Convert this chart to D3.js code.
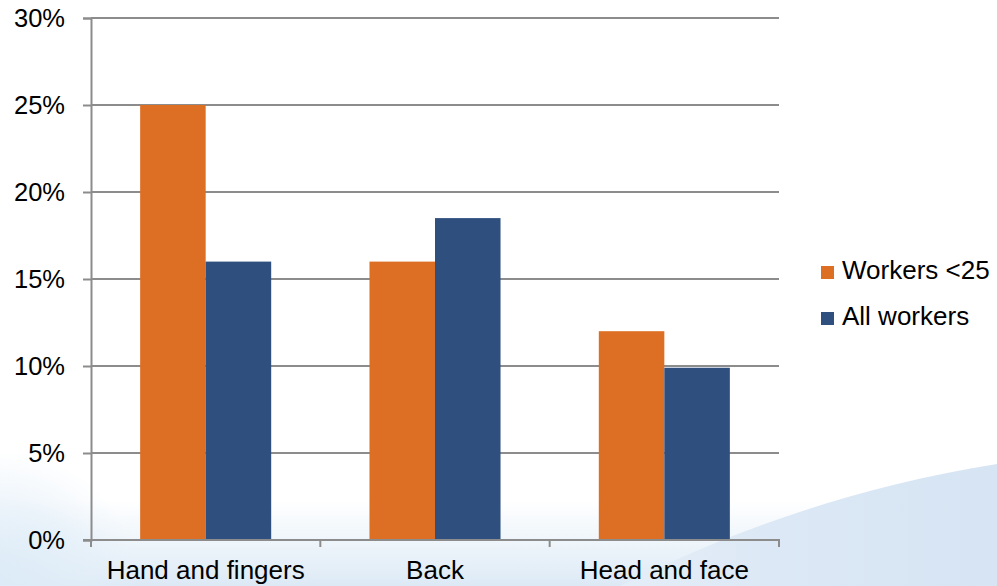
<!DOCTYPE html>
<html>
<head>
<meta charset="utf-8">
<script src="https://cdn.jsdelivr.net/npm/d3@7"></script>
<style>
  html, body { margin: 0; padding: 0; background: #ffffff; }
  svg { display: block; font-family: "Liberation Sans", Arial, sans-serif; }
</style>
</head>
<body>
<svg id="chart" width="997" height="586"></svg>
<script>
// Share of injuries by body part
const categories = ["Hand and fingers", "Back", "Head and face"];
const seriesNames = ["Workers <25", "All workers"];
const workersUnder25 = [25, 16, 12];
const allWorkers = [16, 18.5, 9.9];
const yTicks = [0, 5, 10, 15, 20, 25, 30];
const colors = ["#dd6f24", "#2f4f7f"];

const svg = d3.select("#chart");
const W = 997, H = 586;
const m = { left: 91, right: 779, top: 18, bottom: 540 };
const FONT = "'Liberation Sans', Arial, sans-serif";

// Soft blue haze and swoosh along the bottom of the slide
const defs = svg.append("defs");
const haze = defs.append("linearGradient").attr("id", "haze").attr("x1", 0).attr("y1", 0).attr("x2", 0).attr("y2", 1);
haze.append("stop").attr("offset", 0).attr("stop-color", "#e4eff8").attr("stop-opacity", 0);
haze.append("stop").attr("offset", 0.55).attr("stop-color", "#e4eff8").attr("stop-opacity", 0.7);
haze.append("stop").attr("offset", 1).attr("stop-color", "#dce9f5").attr("stop-opacity", 1);
const leftGlow = defs.append("radialGradient").attr("id", "leftGlow")
  .attr("cx", 0).attr("cy", 1).attr("r", 1);
leftGlow.append("stop").attr("offset", 0).attr("stop-color", "#dcebf7").attr("stop-opacity", 1);
leftGlow.append("stop").attr("offset", 0.6).attr("stop-color", "#e2eef8").attr("stop-opacity", 0.6);
leftGlow.append("stop").attr("offset", 1).attr("stop-color", "#e6f0f9").attr("stop-opacity", 0);
const sw = defs.append("linearGradient").attr("id", "sw").attr("x1", 0).attr("y1", 0).attr("x2", 1).attr("y2", 0);
sw.append("stop").attr("offset", 0).attr("stop-color", "#e4eef8");
sw.append("stop").attr("offset", 0.4).attr("stop-color", "#dce8f5");
sw.append("stop").attr("offset", 1).attr("stop-color", "#d6e4f3");

svg.append("rect").attr("x", 0).attr("y", 500).attr("width", W).attr("height", 86).attr("fill", "url(#haze)");
svg.append("rect").attr("x", 0).attr("y", 450).attr("width", 140).attr("height", 136).attr("fill", "url(#leftGlow)");
svg.append("path")
  .attr("d", "M620,586 C690,552 820,492 997,464 L997,586 Z")
  .attr("fill", "url(#sw)");

const x0 = d3.scaleBand().domain(categories).range([m.left, m.right]).paddingInner(0).paddingOuter(0);
const x1 = d3.scaleBand().domain(seriesNames).range([0, x0.bandwidth()]).paddingInner(0).paddingOuter(0.75);
const y = d3.scaleLinear().domain([0, 30]).range([m.bottom, m.top]);

// Horizontal gridlines with short ticks on the left
const yAxis = d3.axisLeft(y).tickValues(yTicks).tickFormat(d => d + "%").tickSize(8).tickPadding(18);
const gy = svg.append("g").attr("transform", `translate(${m.left},0)`).call(yAxis);
gy.select(".domain").attr("stroke", "#8c8c8c").attr("stroke-width", 2);
gy.selectAll(".tick line").attr("stroke", "#8c8c8c").attr("stroke-width", 2);
gy.selectAll(".tick text").attr("font-size", 25.5).attr("fill", "#000").attr("font-family", FONT);

svg.append("g").selectAll("line").data(yTicks.filter(t => t > 0)).join("line")
  .attr("x1", m.left).attr("x2", m.right)
  .attr("y1", d => y(d)).attr("y2", d => y(d))
  .attr("stroke", "#8c8c8c").attr("stroke-width", 2);

// Bars
const rows = categories.map((c, i) => ({ cat: c, vals: [workersUnder25[i], allWorkers[i]] }));
svg.append("g").selectAll("g").data(rows).join("g")
  .attr("transform", d => `translate(${x0(d.cat)},0)`)
  .selectAll("rect").data(d => d.vals.map((v, j) => ({ v, s: seriesNames[j], j })))
  .join("rect")
  .attr("x", d => x1(d.s))
  .attr("width", x1.bandwidth())
  .attr("y", d => y(d.v))
  .attr("height", d => y(0) - y(d.v))
  .attr("fill", d => colors[d.j]);

// Category axis along the bottom
const xAxis = d3.axisBottom(x0).tickSize(0);
const gx = svg.append("g").attr("transform", `translate(0,${m.bottom})`).call(xAxis);
gx.select(".domain").remove();
gx.selectAll(".tick text").attr("font-size", 26).attr("fill", "#000").attr("font-family", FONT)
  .attr("dy", null).attr("y", 39);
svg.append("line").attr("x1", m.left - 8).attr("x2", m.right + 1)
  .attr("y1", m.bottom).attr("y2", m.bottom)
  .attr("stroke", "#8c8c8c").attr("stroke-width", 2);
const bounds = [m.left].concat(categories.map(c => x0(c) + x0.bandwidth()));
svg.append("g").selectAll("line").data(bounds).join("line")
  .attr("x1", d => d).attr("x2", d => d)
  .attr("y1", m.bottom).attr("y2", m.bottom + 7)
  .attr("stroke", "#8c8c8c").attr("stroke-width", 2);

// Legend
const lg = svg.append("g").attr("transform", "translate(821,266)");
seriesNames.forEach((s, i) => {
  const row = lg.append("g").attr("transform", `translate(0,${i * 46})`);
  row.append("rect").attr("width", 13).attr("height", 13).attr("fill", colors[i]);
  row.append("text").attr("x", 21).attr("y", 13).attr("font-size", 26)
    .attr("fill", "#000").attr("font-family", FONT).text(s);
});
</script>
</body>
</html>
